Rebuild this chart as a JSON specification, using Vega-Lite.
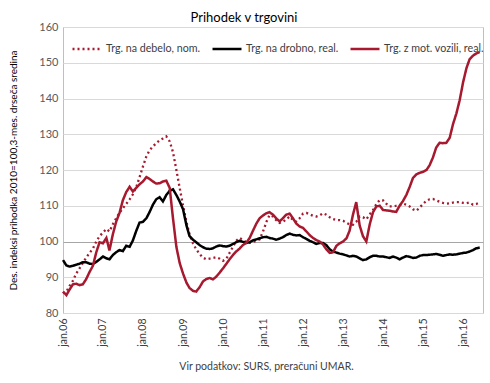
{
  "$schema": "https://vega.github.io/schema/vega-lite/v6.json",
  "width": 420,
  "height": 286,
  "autosize": {"type": "none"},
  "padding": {"left": 63, "top": 27, "right": 7, "bottom": 70},
  "background": "white",
  "config": {
    "font": "Lato",
    "view": {"stroke": "#BFBFBF", "strokeWidth": 1},
    "legend": {"orient": "none", "legendX": 8, "legendY": 6, "direction": "horizontal"},
    "axisY": {
      "values": [80, 90, 100, 110, 120, 130, 140, 150, 160],
      "grid": true,
      "gridColor": {"condition": {"test": "datum.value === 100", "value": "#A6A6A6"}, "value": "#D9D9D9"},
      "domain": false, "ticks": false,
      "labelFontSize": 11, "labelColor": "#595959", "labelPadding": 5,
      "titleFontSize": 10, "titleFontWeight": "normal", "titleColor": "#000000", "titlePadding": 20
    }
  },
  "title": {"text": "Prihodek v trgovini", "fontSize": 13, "fontWeight": "normal", "color": "#000000", "font": "Lato", "anchor": "middle", "dx": -29, "dy": 12, "offset": 8},
  "data": {
    "format": {"parse": {"d": "date:'%Y-%m'"}},
    "values": [
      {"d":"2006-01","a":85.5,"b":94.8,"c":86.0},
      {"d":"2006-02","a":86.0,"b":93.3,"c":85.0},
      {"d":"2006-03","a":87.5,"b":93.0,"c":86.5},
      {"d":"2006-04","a":89.0,"b":93.2,"c":88.0},
      {"d":"2006-05","a":91.0,"b":93.5,"c":88.2},
      {"d":"2006-06","a":92.5,"b":93.8,"c":87.8},
      {"d":"2006-07","a":94.0,"b":94.2,"c":88.0},
      {"d":"2006-08","a":95.5,"b":94.2,"c":89.5},
      {"d":"2006-09","a":96.8,"b":93.8,"c":91.5},
      {"d":"2006-10","a":98.0,"b":93.7,"c":93.2},
      {"d":"2006-11","a":100.0,"b":94.3,"c":97.0},
      {"d":"2006-12","a":101.5,"b":95.0,"c":99.8},
      {"d":"2007-01","a":102.5,"b":95.8,"c":99.5},
      {"d":"2007-02","a":103.5,"b":95.3,"c":101.0},
      {"d":"2007-03","a":102.8,"b":95.0,"c":97.5},
      {"d":"2007-04","a":104.8,"b":96.2,"c":102.0},
      {"d":"2007-05","a":106.5,"b":97.0,"c":105.5},
      {"d":"2007-06","a":108.0,"b":97.6,"c":108.0},
      {"d":"2007-07","a":109.3,"b":97.3,"c":111.5},
      {"d":"2007-08","a":110.5,"b":98.8,"c":113.8},
      {"d":"2007-09","a":111.8,"b":98.5,"c":115.3},
      {"d":"2007-10","a":113.2,"b":100.3,"c":114.0},
      {"d":"2007-11","a":115.2,"b":103.0,"c":115.0},
      {"d":"2007-12","a":118.0,"b":105.3,"c":116.0},
      {"d":"2008-01","a":121.0,"b":105.5,"c":116.8},
      {"d":"2008-02","a":123.8,"b":106.5,"c":118.0},
      {"d":"2008-03","a":125.5,"b":108.2,"c":117.5},
      {"d":"2008-04","a":126.6,"b":110.3,"c":116.8},
      {"d":"2008-05","a":127.5,"b":111.8,"c":116.2},
      {"d":"2008-06","a":128.3,"b":112.4,"c":116.3},
      {"d":"2008-07","a":128.8,"b":111.2,"c":116.8},
      {"d":"2008-08","a":129.4,"b":113.0,"c":117.0},
      {"d":"2008-09","a":128.0,"b":114.2,"c":115.0},
      {"d":"2008-10","a":125.0,"b":114.6,"c":106.5},
      {"d":"2008-11","a":120.0,"b":113.0,"c":98.5},
      {"d":"2008-12","a":115.0,"b":111.2,"c":94.0},
      {"d":"2009-01","a":110.0,"b":109.0,"c":91.0},
      {"d":"2009-02","a":105.5,"b":104.5,"c":88.5},
      {"d":"2009-03","a":102.0,"b":101.5,"c":87.0},
      {"d":"2009-04","a":99.5,"b":100.5,"c":86.2},
      {"d":"2009-05","a":97.8,"b":99.8,"c":86.0},
      {"d":"2009-06","a":96.5,"b":99.0,"c":87.2},
      {"d":"2009-07","a":95.5,"b":98.4,"c":88.8},
      {"d":"2009-08","a":95.0,"b":98.0,"c":89.5},
      {"d":"2009-09","a":95.2,"b":97.9,"c":89.8},
      {"d":"2009-10","a":95.4,"b":98.1,"c":89.4},
      {"d":"2009-11","a":95.6,"b":98.6,"c":90.2},
      {"d":"2009-12","a":95.2,"b":98.9,"c":91.3},
      {"d":"2010-01","a":94.6,"b":98.7,"c":92.5},
      {"d":"2010-02","a":95.2,"b":98.6,"c":93.8},
      {"d":"2010-03","a":96.8,"b":98.8,"c":95.0},
      {"d":"2010-04","a":98.5,"b":99.3,"c":96.2},
      {"d":"2010-05","a":100.2,"b":99.8,"c":97.2},
      {"d":"2010-06","a":101.0,"b":100.2,"c":98.0},
      {"d":"2010-07","a":100.5,"b":99.9,"c":99.0},
      {"d":"2010-08","a":99.8,"b":99.6,"c":99.6},
      {"d":"2010-09","a":99.6,"b":99.8,"c":101.0},
      {"d":"2010-10","a":99.9,"b":100.3,"c":103.0},
      {"d":"2010-11","a":100.2,"b":100.6,"c":105.0},
      {"d":"2010-12","a":100.6,"b":100.9,"c":106.5},
      {"d":"2011-01","a":102.8,"b":101.2,"c":107.3},
      {"d":"2011-02","a":105.5,"b":101.3,"c":107.9},
      {"d":"2011-03","a":107.4,"b":101.0,"c":108.2},
      {"d":"2011-04","a":107.0,"b":100.8,"c":107.5},
      {"d":"2011-05","a":106.0,"b":100.5,"c":106.5},
      {"d":"2011-06","a":105.2,"b":100.8,"c":105.6},
      {"d":"2011-07","a":105.5,"b":101.2,"c":106.5},
      {"d":"2011-08","a":106.2,"b":101.8,"c":107.5},
      {"d":"2011-09","a":107.0,"b":102.2,"c":107.8},
      {"d":"2011-10","a":106.0,"b":101.9,"c":106.5},
      {"d":"2011-11","a":105.6,"b":101.7,"c":105.0},
      {"d":"2011-12","a":106.5,"b":101.8,"c":104.2},
      {"d":"2012-01","a":107.8,"b":101.2,"c":103.8},
      {"d":"2012-02","a":108.0,"b":100.7,"c":102.8},
      {"d":"2012-03","a":107.6,"b":100.2,"c":101.8},
      {"d":"2012-04","a":107.2,"b":99.8,"c":101.0},
      {"d":"2012-05","a":107.0,"b":99.3,"c":100.4},
      {"d":"2012-06","a":107.3,"b":99.6,"c":100.0},
      {"d":"2012-07","a":107.9,"b":99.6,"c":99.2},
      {"d":"2012-08","a":107.5,"b":99.0,"c":97.8},
      {"d":"2012-09","a":106.8,"b":97.8,"c":96.8},
      {"d":"2012-10","a":106.3,"b":97.2,"c":97.0},
      {"d":"2012-11","a":106.0,"b":96.9,"c":98.8},
      {"d":"2012-12","a":106.0,"b":96.6,"c":99.5},
      {"d":"2013-01","a":105.8,"b":96.4,"c":100.0},
      {"d":"2013-02","a":105.2,"b":96.1,"c":100.9},
      {"d":"2013-03","a":104.8,"b":95.8,"c":103.0},
      {"d":"2013-04","a":104.7,"b":96.0,"c":107.5},
      {"d":"2013-05","a":105.5,"b":95.8,"c":111.0},
      {"d":"2013-06","a":107.0,"b":95.3,"c":104.5},
      {"d":"2013-07","a":106.8,"b":94.8,"c":101.5},
      {"d":"2013-08","a":106.2,"b":95.0,"c":100.0},
      {"d":"2013-09","a":107.6,"b":95.6,"c":104.8},
      {"d":"2013-10","a":108.8,"b":96.0,"c":108.2},
      {"d":"2013-11","a":110.5,"b":96.0,"c":109.8},
      {"d":"2013-12","a":111.6,"b":95.8,"c":110.0},
      {"d":"2014-01","a":111.5,"b":95.8,"c":108.8},
      {"d":"2014-02","a":110.5,"b":95.6,"c":108.7},
      {"d":"2014-03","a":109.8,"b":95.4,"c":108.6},
      {"d":"2014-04","a":109.8,"b":95.8,"c":108.4},
      {"d":"2014-05","a":110.0,"b":95.5,"c":108.3},
      {"d":"2014-06","a":110.2,"b":95.0,"c":110.0},
      {"d":"2014-07","a":110.6,"b":95.5,"c":111.3},
      {"d":"2014-08","a":110.3,"b":95.9,"c":113.0},
      {"d":"2014-09","a":109.8,"b":95.7,"c":115.3},
      {"d":"2014-10","a":109.0,"b":95.4,"c":117.8},
      {"d":"2014-11","a":108.6,"b":95.5,"c":118.8},
      {"d":"2014-12","a":109.5,"b":96.0,"c":119.2},
      {"d":"2015-01","a":110.5,"b":96.2,"c":119.5},
      {"d":"2015-02","a":111.4,"b":96.2,"c":120.0},
      {"d":"2015-03","a":111.8,"b":96.3,"c":121.3},
      {"d":"2015-04","a":111.9,"b":96.4,"c":123.5},
      {"d":"2015-05","a":111.5,"b":96.5,"c":126.3},
      {"d":"2015-06","a":111.1,"b":96.3,"c":127.6},
      {"d":"2015-07","a":110.8,"b":96.0,"c":127.5},
      {"d":"2015-08","a":110.6,"b":96.2,"c":127.6},
      {"d":"2015-09","a":110.7,"b":96.4,"c":129.0},
      {"d":"2015-10","a":110.9,"b":96.3,"c":132.8},
      {"d":"2015-11","a":111.0,"b":96.4,"c":135.8},
      {"d":"2015-12","a":111.0,"b":96.6,"c":139.5},
      {"d":"2016-01","a":110.8,"b":96.8,"c":144.5},
      {"d":"2016-02","a":110.7,"b":96.9,"c":148.5},
      {"d":"2016-03","a":110.9,"b":97.2,"c":151.0},
      {"d":"2016-04","a":110.3,"b":97.6,"c":152.0},
      {"d":"2016-05","a":110.5,"b":98.1,"c":152.6},
      {"d":"2016-06","a":110.9,"b":98.3,"c":153.0}
    ]
  },
  "encoding": {
    "x": {
      "field": "d",
      "type": "temporal",
      "scale": {"domain": [{"year": 2006, "month": 1, "date": 1}, {"year": 2016, "month": 7, "date": 1}]},
      "axis": {
        "values": [
          {"year": 2006, "month": 1, "date": 1},
          {"year": 2007, "month": 1, "date": 1},
          {"year": 2008, "month": 1, "date": 1},
          {"year": 2009, "month": 1, "date": 1},
          {"year": 2010, "month": 1, "date": 1},
          {"year": 2011, "month": 1, "date": 1},
          {"year": 2012, "month": 1, "date": 1},
          {"year": 2013, "month": 1, "date": 1},
          {"year": 2014, "month": 1, "date": 1},
          {"year": 2015, "month": 1, "date": 1},
          {"year": 2016, "month": 1, "date": 1}
        ],
        "labelExpr": "'jan.' + timeFormat(datum.value, '%y')",
        "labelAngle": -90,
        "labelFontSize": 10.5,
        "labelColor": "#404040",
        "labelPadding": 5,
        "labelFlush": false,
        "ticks": false,
        "domain": false,
        "grid": false,
        "title": "Vir podatkov: SURS, preračuni UMAR.",
        "titleFontSize": 10.5,
        "titleFontWeight": "normal",
        "titleColor": "#404040",
        "titlePadding": 15,
        "titleX": 203
      }
    }
  },
  "layer": [
    {
      "mark": {"type": "line", "strokeWidth": 2.3, "strokeCap": "butt"},
      "encoding": {
        "y": {
          "field": "a", "type": "quantitative",
          "scale": {"domain": [80, 160], "nice": false, "zero": false},
          "axis": {"title": "Des. indeksi prihodka 2010=100,3-mes. drseča sredina", "values": [80, 90, 100, 110, 120, 130, 140, 150, 160]}
        },
        "color": {
          "datum": "Trg. na debelo, nom.",
          "scale": {"domain": ["Trg. na debelo, nom.", "Trg. na drobno, real.", "Trg. z mot. vozili, real."], "range": ["#A6192E", "#000000", "#A6192E"]},
          "legend": {"title": null, "symbolType": "stroke", "symbolSize": 840, "symbolStrokeWidth": 2.5, "labelFontSize": 10.7, "labelColor": "#404040", "labelOffset": 3, "columnPadding": 6}
        },
        "strokeDash": {
          "datum": "Trg. na debelo, nom.",
          "scale": {"domain": ["Trg. na debelo, nom.", "Trg. na drobno, real.", "Trg. z mot. vozili, real."], "range": [[2, 3], [1, 0], [1, 0]]}
        }
      }
    },
    {
      "mark": {"type": "line", "strokeWidth": 2.5},
      "encoding": {
        "y": {"field": "b", "type": "quantitative", "axis": {"title": "Des. indeksi prihodka 2010=100,3-mes. drseča sredina", "values": [80, 90, 100, 110, 120, 130, 140, 150, 160]}},
        "color": {"datum": "Trg. na drobno, real."},
        "strokeDash": {"datum": "Trg. na drobno, real."}
      }
    },
    {
      "mark": {"type": "line", "strokeWidth": 2.5},
      "encoding": {
        "y": {"field": "c", "type": "quantitative", "axis": {"title": "Des. indeksi prihodka 2010=100,3-mes. drseča sredina", "values": [80, 90, 100, 110, 120, 130, 140, 150, 160]}},
        "color": {"datum": "Trg. z mot. vozili, real."},
        "strokeDash": {"datum": "Trg. z mot. vozili, real."}
      }
    }
  ]
}
